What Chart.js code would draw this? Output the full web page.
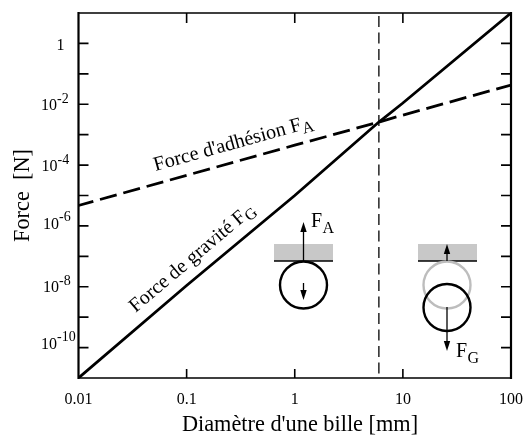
<!DOCTYPE html>
<html>
<head>
<meta charset="utf-8">
<style>
  html, body { margin: 0; padding: 0; background: #fff; }
  #box { width: 532px; height: 437px; }
</style>
<script src="https://cdn.jsdelivr.net/npm/chart.js@4/dist/chart.umd.min.js"></script>
</head>
<body>
<div id="box"><canvas id="myChart" width="532" height="437"></canvas></div>
<script>
const diameters = [0.01, 0.1, 1, 6, 10, 100];
const gravity = [1e-11, 1.1e-8, 1e-5, 2.6e-3, 1.1e-2, 10];
const adhesion = [4.7e-6, 4.6e-5, 4.5e-4, 2.6e-3, 4.4e-3, 4.3e-2];
const limitX = [6, 6];
const limitY = [8, 1e-11];
const xTicks = [0.01, 0.1, 1, 10, 100];
const yTicks = [1, 1e-1, 1e-2, 1e-3, 1e-4, 1e-5, 1e-6, 1e-7, 1e-8, 1e-9, 1e-10];
const yLabels = { 1: ['1', ''], 1e-2: ['10', '-2'], 1e-4: ['10', '-4'], 1e-6: ['10', '-6'], 1e-8: ['10', '-8'], 1e-10: ['10', '-10'] };

const SERIF = '"Liberation Serif", serif';

// the labels do not sit evenly against their ticks: [x, base offset, superscript offset]
const yLabelPos = {
  1e-2: [41, 5.5, -1],
  1e-4: [41.5, 5.5, -1],
  1e-6: [43, 3, -5],
  1e-8: [43, 5, -2],
  1e-10: [41, 1.5, -7]
};

function arrow(c, x, y1, y2, color) {
  const dir = y2 > y1 ? 1 : -1;
  c.strokeStyle = color;
  c.fillStyle = color;
  c.lineWidth = 1.3;
  c.beginPath();
  c.moveTo(x, y1);
  c.lineTo(x, y2 - dir * 6);
  c.stroke();
  c.beginPath();
  c.moveTo(x, y2);
  c.lineTo(x - 3.2, y2 - dir * 10);
  c.lineTo(x + 3.2, y2 - dir * 10);
  c.closePath();
  c.fill();
}

function ball(c, x, y, color) {
  c.strokeStyle = color;
  c.lineWidth = 2.4;
  c.beginPath();
  c.arc(x, y, 23.5, 0, Math.PI * 2);
  c.stroke();
}

function ceiling(c, x) {
  c.fillStyle = '#c8c8c8';
  c.fillRect(x, 244, 59, 17);
  c.strokeStyle = '#000';
  c.lineWidth = 1.3;
  c.beginPath();
  c.moveTo(x, 261);
  c.lineTo(x + 59, 261);
  c.stroke();
}

function forceLabel(c, x, y, sub) {
  c.textAlign = 'left';
  c.fillStyle = '#000';
  c.font = '20px ' + SERIF;
  c.fillText('F', x, y);
  c.font = '16px ' + SERIF;
  c.fillText(sub, x + 11.5, y + 6);
}

function slanted(c, text, sub, x, y, deg, size) {
  c.save();
  c.translate(x, y);
  c.rotate(deg * Math.PI / 180);
  c.textAlign = 'left';
  c.fillStyle = '#000';
  c.font = size + 'px ' + SERIF;
  c.fillText(text, 0, 0);
  const w = c.measureText(text).width;
  c.font = (size - 4) + 'px ' + SERIF;
  c.fillText(sub, w, 4);
  c.restore();
}

const decorations = {
  id: 'decorations',
  afterDatasetsDraw(chart) {
    const c = chart.ctx, xs = chart.scales.x, ys = chart.scales.y, a = chart.chartArea;
    c.save();
    c.textBaseline = 'alphabetic';

    // frame and inward ticks
    c.strokeStyle = '#000';
    c.lineWidth = 1.6;
    xTicks.slice(1, -1).forEach(v => {
      const px = xs.getPixelForValue(v);
      c.beginPath();
      c.moveTo(px, a.top); c.lineTo(px, a.top + 10);
      c.moveTo(px, a.bottom); c.lineTo(px, a.bottom - 9);
      c.stroke();
    });
    yTicks.forEach(v => {
      const py = ys.getPixelForValue(v);
      c.beginPath();
      c.moveTo(a.left, py); c.lineTo(a.left + 10, py);
      c.moveTo(a.right, py); c.lineTo(a.right - 10, py);
      c.stroke();
    });
    c.lineWidth = 1.5;
    c.beginPath();
    c.moveTo(a.left, a.top); c.lineTo(a.right, a.top);
    c.moveTo(a.left, a.bottom); c.lineTo(a.right, a.bottom);
    c.stroke();
    c.lineWidth = 2.2;
    c.beginPath();
    c.moveTo(a.left, a.top - 1); c.lineTo(a.left, a.bottom + 1);
    c.moveTo(a.right, a.top - 1); c.lineTo(a.right, a.bottom + 1);
    c.stroke();

    // y tick labels with superscript
    c.fillStyle = '#000';
    yTicks.forEach(v => {
      const lab = yLabels[v];
      if (!lab) return;
      const py = ys.getPixelForValue(v);
      if (!lab[1]) {
        c.textAlign = 'center';
        c.font = '16px ' + SERIF;
        c.fillText(lab[0], 60.5, py + 7);
        return;
      }
      const pos = yLabelPos[v];
      c.textAlign = 'left';
      c.font = '16px ' + SERIF;
      c.fillText(lab[0], pos[0], py + pos[1]);
      c.font = '14px ' + SERIF;
      c.fillText(lab[1], pos[0] + 16, py + pos[2]);
    });

    // x axis title sits a little right of the axis centre
    c.textAlign = 'center';
    c.font = '22.3px ' + SERIF;
    c.fillText("Diamètre d'une bille [mm]", 300, 431);

    // curve labels
    slanted(c, "Force d'adhésion F", 'A', 155.5, 171, -15.6, 20.2);
    slanted(c, 'Force de gravité F', 'G', 135.5, 313, -40.2, 20);

    // sketch: ball held on the surface
    ceiling(c, 274);
    ball(c, 303.5, 285, '#000');
    arrow(c, 303.5, 261, 222, '#000');
    arrow(c, 303.5, 283, 300, '#000');
    forceLabel(c, 311, 227, 'A');

    // sketch: ball falling off the surface
    ceiling(c, 418);
    ball(c, 447, 285, '#bdbdbd');
    ball(c, 447, 307.5, '#000');
    arrow(c, 447, 261, 244, '#000');
    arrow(c, 447, 307, 351, '#000');
    forceLabel(c, 456, 357, 'G');

    c.restore();
  }
};

const ctx = document.getElementById('myChart').getContext('2d');
const toPoints = (xv, yv) => xv.map((x, i) => ({ x: x, y: yv[i] }));

new Chart(ctx, {
  type: 'scatter',
  data: {
    datasets: [
      { label: 'Force de gravité', data: toPoints(diameters, gravity), showLine: true, borderColor: '#000', borderWidth: 2.8, pointRadius: 0 },
      { label: "Force d'adhésion", data: toPoints(diameters, adhesion), showLine: true, borderColor: '#000', borderWidth: 2.8, borderDash: [17.3, 6.9], borderDashOffset: 1.9, pointRadius: 0 },
      { label: 'Limite', data: toPoints(limitX, limitY), showLine: true, borderColor: '#000', borderWidth: 1.3, borderDash: [11, 5.5], pointRadius: 0 }
    ]
  },
  options: {
    responsive: false,
    animation: false,
    layout: { padding: { top: 13, right: 21, left: 0, bottom: 0 } },
    plugins: { legend: { display: false }, tooltip: { enabled: false } },
    scales: {
      x: {
        type: 'logarithmic',
        min: 0.01,
        max: 100,
        afterFit: s => { s.height = 59; },
        afterBuildTicks: s => { s.ticks = xTicks.map(v => ({ value: v })); },
        grid: { display: false },
        border: { display: false },
        ticks: {
          color: '#000',
          font: { family: SERIF, size: 16 },
          padding: 4,
          maxRotation: 0,
          autoSkip: false,
          callback: v => String(v)
        }
      },
      y: {
        type: 'logarithmic',
        min: 1e-11,
        max: 10,
        afterFit: s => { s.width = 78.5; },
        grid: { display: false },
        border: { display: false },
        ticks: { display: false },
        title: { display: true, text: 'Force  [N]', color: '#000', font: { family: SERIF, size: 22.3 }, padding: { top: 10, bottom: 0 } }
      }
    }
  },
  plugins: [decorations]
});
</script>
</body>
</html>
